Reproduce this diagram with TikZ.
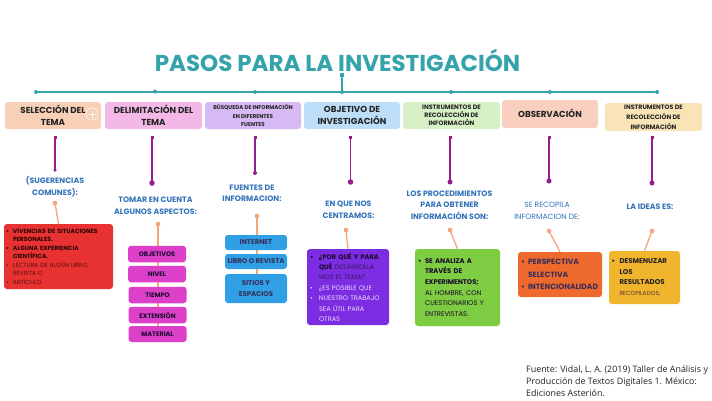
\documentclass[tikz,border=0pt]{standalone}
\usepackage{fontspec}
\setmainfont{Poppins}
\newfontfamily\footfont{Open Sans}
\definecolor{teal}{RGB}{52,163,170}
\definecolor{magstem}{RGB}{150,30,140}
\definecolor{orstem}{RGB}{244,167,125}
\definecolor{lblue}{RGB}{50,115,185}
\definecolor{txt}{RGB}{35,35,35}
\definecolor{tb1}{RGB}{248,208,184}
\definecolor{tb2}{RGB}{243,184,230}
\definecolor{tb3}{RGB}{214,185,245}
\definecolor{tb4}{RGB}{189,222,248}
\definecolor{tb5}{RGB}{215,240,197}
\definecolor{tb6}{RGB}{249,207,192}
\definecolor{tb7}{RGB}{248,228,182}
\definecolor{bred}{RGB}{232,50,50}
\definecolor{bmag}{RGB}{221,64,200}
\definecolor{bblue}{RGB}{47,160,230}
\definecolor{bpur}{RGB}{125,45,225}
\definecolor{bgreen}{RGB}{125,204,65}
\definecolor{borange}{RGB}{238,106,44}
\definecolor{byellow}{RGB}{240,180,45}
\definecolor{darkred}{RGB}{40,5,5}
\definecolor{midred}{RGB}{95,15,15}
\definecolor{darkpur}{RGB}{25,10,45}
\definecolor{midpur}{RGB}{55,25,95}
\definecolor{lightpur}{RGB}{232,218,255}
\definecolor{navy}{RGB}{55,45,90}
\newcommand{\bul}{\makebox[7pt][l]{\textbullet}}
\newcommand{\ind}{\hspace*{7pt}}
\begin{document}
\begin{tikzpicture}[x=1pt,y=-1pt,
  topbox/.style={rounded corners=3pt, inner sep=0pt, minimum height=27pt, align=center, text=txt, font=\bfseries\fontsize{8.7}{12}\selectfont},
  smalltop/.style={topbox, font=\bfseries\fontsize{5.5}{8.2}\selectfont},
  hdot/.style={circle, fill=teal, inner sep=0pt, minimum size=4pt},
  mdot/.style={circle, fill=magstem, inner sep=0pt, minimum size=#1},
  msq/.style={rectangle, fill=magstem, inner sep=0pt, minimum size=3pt},
  odot/.style={circle, fill=orstem, inner sep=0pt, minimum size=4.5pt},
  magline/.style={draw=magstem, line width=1.6pt},
  orline/.style={draw=orstem, line width=1.3pt},
  tealline/.style={draw=teal, line width=1.6pt},
  lbl/.style={align=center, text=lblue, font=\bfseries\fontsize{7.8}{11.5}\selectfont},
  magbox/.style={fill=bmag, rounded corners=3pt, inner sep=0pt, minimum width=58pt, minimum height=16.5pt, text=darkpur, font=\bfseries\fontsize{6.5}{8}\selectfont},
  bluebox/.style={fill=bblue, rounded corners=3pt, inner sep=0pt, minimum width=62pt, text=navy, align=center, font=\bfseries\fontsize{6.9}{11}\selectfont},
  bigbox/.style={rounded corners=3pt, inner sep=0pt, align=left}
]
\useasboundingbox[fill=white] (0,0) rectangle (712,400);

% title
\node[text=teal, font=\bfseries\fontsize{23}{26}\selectfont] (title) at (337.5,60.5) {PASOS PARA LA INVESTIGACIÓN};

% timeline
\node[msq, fill=teal, minimum size=4pt] (tsq) at (342,75) {};
\node[hdot] (h1) at (36,92) {};
\node[hdot] (h2) at (155,91.5) {};
\node[hdot] (h3) at (255,92) {};
\node[hdot] (hj) at (342,92) {};
\node[hdot] (h5) at (451,92) {};
\node[hdot] (h6) at (550,92) {};
\node[hdot] (h7) at (657,92) {};
\draw[tealline] (h1) -- (h7);
\draw[tealline, line width=1.3pt] (tsq) -- (hj);

% top boxes
\node[topbox, fill=tb1, minimum width=96pt] (t1) at (53,115.5) {SELECCIÓN DEL\\TEMA};
\draw[white, line width=0.7pt, opacity=0.8] (92,114) circle (6);
\draw[white, line width=0.7pt, opacity=0.8] (88.5,114) -- (95.5,114) (92,110.5) -- (92,117.5);
\node[topbox, fill=tb2, minimum width=97pt] (t2) at (153.5,115.5) {DELIMITACIÓN DEL\\TEMA};
\node[smalltop, fill=tb3, minimum width=96pt] (t3) at (253,115.5) {BÚSQUEDA DE INFORMACIÓN\\EN DIFERENTES\\FUENTES};
\node[topbox, fill=tb4, minimum width=96pt] (t4) at (352,115.5) {OBJETIVO DE\\INVESTIGACIÓN};
\node[smalltop, fill=tb5, minimum width=97pt, font=\bfseries\fontsize{6.3}{8.2}\selectfont] (t5) at (451.5,115.5) {INSTRUMENTOS DE\\RECOLECCIÓN DE\\INFORMACIÓN};
\node[topbox, fill=tb6, minimum width=96pt, minimum height=28pt] (t6) at (550,114) {\raisebox{2pt}{OBSERVACIÓN}};
\node[smalltop, fill=tb7, minimum width=97pt, minimum height=28pt, font=\bfseries\fontsize{6.3}{10}\selectfont] (t7) at (653.5,117) {INSTRUMENTOS DE\\RECOLECCIÓN DE\\INFORMACIÓN};

% magenta stems
\node[msq] (s1) at (55,137) {};
\node[msq] (s2) at (152,137) {};
\node[msq] (s3) at (255,137) {};
\node[msq] (s4) at (350.5,137) {};
\node[msq] (s5) at (450,137) {};
\node[msq] (s6) at (549,137) {};
\node[msq] (s7) at (652,137) {};
\node[mdot=3.5pt] (m1) at (55,170) {};
\node[mdot=5.5pt] (m2) at (152,183) {};
\node[mdot=4pt] (m3) at (255,173) {};
\node[mdot=5.5pt] (m4) at (350.5,182) {};
\node[mdot=5pt] (m5) at (450,182) {};
\node[mdot=5pt] (m6) at (549,181) {};
\node[mdot=5pt] (m7) at (652,183) {};
\foreach \i in {1,...,7} {\draw[magline] (s\i.center) -- (m\i.center);}

% labels
\node[lbl] (l1) at (55,186.5) {(SUGERENCIAS\\COMUNES):};
\node[lbl] (l2) at (155.5,205.5) {TOMAR EN CUENTA\\ALGUNOS ASPECTOS:};
\node[lbl] (l3) at (252,193) {FUENTES DE\\INFORMACION:};
\node[lbl] (l4) at (348.5,209.5) {EN QUE NOS\\CENTRAMOS:};
\node[lbl] (l5) at (449.5,204.8) {LOS PROCEDIMIENTOS\\PARA OBTENER\\INFORMACIÓN SON:};
\node[lbl, font=\fontsize{7.6}{12}\selectfont] (l6) at (547,210.5) {SE RECOPILA\\INFORMACION DE:};
\node[lbl] (l7) at (650,207) {LA IDEAS ES:};

% orange dots
\node[odot] (o1) at (55,203) {};
\node[odot] (o2) at (158,224) {};
\node[odot] (o3) at (257,216) {};
\node[odot] (o4) at (346,230) {};
\node[odot] (o5) at (450,230) {};
\node[odot] (o6) at (549,231) {};
\node[odot] (o7) at (652,231) {};

% column 2 / 3 vertical lines behind stacked boxes
\coordinate (c2end) at (158,334);
\coordinate (c3end) at (257,288);
\draw[orline] (o2.center) -- (c2end);
\draw[orline] (o3.center) -- (c3end);

% bottom boxes
\node[bigbox, fill=bred, minimum width=109pt, minimum height=65pt, text width=105pt, font=\fontsize{6}{8.5}\selectfont] (r1) at (58.5,256.5) {%
{\color{darkred}\bfseries\bul VIVENCIAS DE SITUACIONES\\
\ind PERSONALES.\\
\bul ALGUNA EXPERIENCIA\\
\ind CIENTÍFICA.}\\
{\color{midred}\bul LECTURA DE ALGÚN LIBRO,\\
\ind REVISTA O\\
\bul ARTÍCULO.}};

\node[magbox] (g1) at (157,254) {OBJETIVOS};
\node[magbox] (g2) at (157,274) {NIVEL};
\node[magbox] (g3) at (157.5,295) {TIEMPO};
\node[magbox] (g4) at (157.5,315) {EXTENSIÓN};
\node[magbox, minimum height=16pt] (g5) at (157.5,334) {MATERIAL};

\node[bluebox, minimum height=15pt] (u1) at (256,242.5) {INTERNET};
\node[bluebox, minimum height=15pt] (u2) at (256,261.5) {LIBRO O REVISTA};
\node[bluebox, minimum height=29pt] (u3) at (256,288.5) {SITIOS Y\\ESPACIOS};

\node[bigbox, fill=bpur, minimum width=82pt, minimum height=76pt, text width=76pt, font=\fontsize{6.6}{10.4}\selectfont] (r4) at (348,287) {%
{\color{darkpur}\bfseries\makebox[9pt][l]{\textbullet}¿POR QUÉ Y PARA\\
\hspace*{9pt}QUÉ }{\color{midpur}DESARROLLA\\
\hspace*{9pt}MOS EL TEMA?}\\
{\color{lightpur}\makebox[9pt][l]{\textbullet}¿ES POSIBLE QUE\\
\makebox[9pt][l]{\textbullet}NUESTRO TRABAJO\\
\hspace*{9pt}SEA ÚTIL PARA\\
\hspace*{9pt}OTRAS}};

\node[bigbox, fill=bgreen, minimum width=85pt, minimum height=77pt, text width=79pt, text=darkpur, font=\fontsize{6.8}{10.7}\selectfont] (r5) at (457.5,287.5) {%
{\bfseries\bul SE ANALIZA A\\
\ind TRAVÉS DE\\
\ind EXPERIMENTOS;}\\
\ind AL HOMBRE, CON\\
\ind CUESTIONARIOS Y\\
\ind ENTREVISTAS.};

\node[bigbox, fill=borange, minimum width=84pt, minimum height=45pt, text width=80pt, text=navy, font=\bfseries\fontsize{7.6}{12.5}\selectfont] (r6) at (560,274.5) {%
\hspace*{1pt}\bul PERSPECTIVA\\
\hspace*{1pt}\ind SELECTIVA\\
\hspace*{1pt}\bul INTENCIONALIDAD};

\node[bigbox, fill=byellow, minimum width=71pt, minimum height=53pt, text width=66pt, text=txt, font=\fontsize{7}{10.5}\selectfont] (r7) at (644.5,277.5) {%
{\bfseries\makebox[8pt][l]{\textbullet}DESMENUZAR\\
\hspace*{8pt}LOS\\
\hspace*{8pt}RESULTADOS}\\
\hspace*{8pt}{\color{darkred!80}\fontsize{5.9}{10.5}\selectfont RECOPILADOS,}};

\draw[orline] (o1.center) -- (r1.north);
\draw[orline] (o4.center) -- (r4.north);
\draw[orline] (o5.center) -- (r5.north);
\draw[orline] (o6.center) -- (r6.north);
\draw[orline] (o7.center) -- (r7.north);
\node[odot] at (o1) {};
\node[odot] at (o2) {};
\node[odot] at (o3) {};
\node[odot] at (o4) {};
\node[odot] at (o5) {};
\node[odot] at (o6) {};
\node[odot] at (o7) {};

% footer
\node[anchor=base west, align=left, text=txt, inner sep=0pt, font=\footfont\fontsize{8.9}{12}\selectfont] (foot) at (526,396) {Fuente: Vidal, L. A. (2019) Taller de Análisis y\\Producción de Textos Digitales 1. México:\\Ediciones Asterión.};
\end{tikzpicture}
\end{document}
